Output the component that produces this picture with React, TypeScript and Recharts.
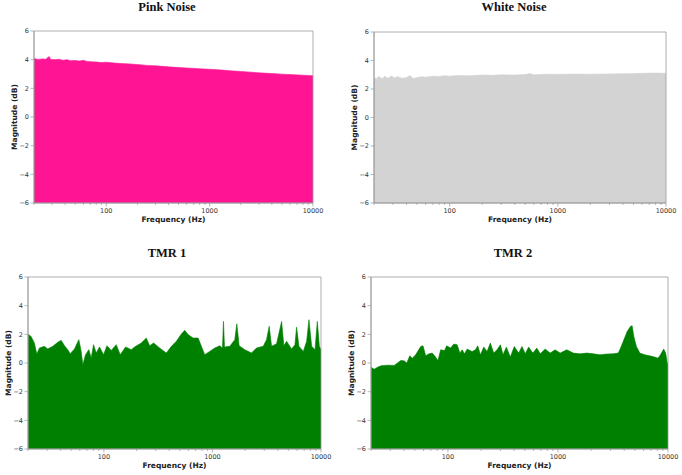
import React from 'react';
import { AreaChart, Area, XAxis, YAxis, ReferenceArea } from 'recharts';

// log-axis ticks (majors get labels)
const X_TICKS = [20, 30, 40, 50, 60, 70, 80, 90, 100, 200, 300, 400, 500, 600, 700, 800, 900,
  1000, 2000, 3000, 4000, 5000, 6000, 7000, 8000, 9000, 10000];
const X_MAJOR = [100, 1000, 10000];
const Y_TICKS = [-6, -4, -2, 0, 2, 4, 6];

const pinkFreq = [20, 22, 24, 26, 28, 29, 32, 35, 38, 42, 45, 50, 55, 60, 65, 70, 80, 90, 100, 120,
  140, 170, 200, 250, 300, 400, 500, 600, 800, 1000, 1300, 1600, 2000, 2500, 3000, 4000, 5000, 6000, 8000, 10000];
const pinkMag = [4.08, 4.02, 4.05, 4.03, 4.22, 4.02, 4.0, 4.03, 3.96, 4.0, 3.93, 3.95, 3.9, 3.96, 3.88, 3.86, 3.84, 3.8, 3.82, 3.76,
  3.73, 3.7, 3.66, 3.6, 3.57, 3.5, 3.45, 3.42, 3.37, 3.33, 3.28, 3.22, 3.18, 3.13, 3.08, 3.03, 2.99, 2.96, 2.92, 2.88];

const whiteFreq = [20, 21, 22, 24, 25, 27, 29, 31, 33, 36, 40, 43, 46, 50, 55, 60, 70, 80, 90, 100,
  120, 150, 200, 250, 300, 400, 500, 550, 600, 800, 1000, 1500, 2000, 3000, 4000, 5000, 6000, 8000, 10000];
const whiteMag = [2.85, 2.7, 2.88, 2.72, 2.9, 2.75, 2.92, 2.78, 2.88, 2.76, 2.8, 2.95, 2.74, 2.8, 2.86, 2.83, 2.9, 2.88, 2.93, 2.9,
  2.95, 2.93, 2.98, 2.96, 3.0, 2.98, 3.02, 3.08, 3.0, 3.04, 3.03, 3.05, 3.04, 3.06, 3.07, 3.08, 3.1, 3.12, 3.1];

const tmr1Freq = [20, 21.3, 22.9, 24.1, 25.5, 28.3, 30.4, 33.8, 37.6, 40.4, 43.4, 46.5, 48.9, 53.6, 58.8,
  61.8, 64.0, 67.7, 72.7, 76.4, 80.3, 85.0, 91.2, 99.3, 106.6, 116.9, 130, 141.5, 158.5, 178.7,
  191.9, 221.1, 245.9, 264, 287, 326, 376, 419, 465, 517, 556, 596, 663, 738, 791,
  849, 944, 1051, 1169, 1237, 1264, 1291, 1445, 1607, 1677, 1762, 1986, 2291, 2547, 2935,
  3150, 3334, 3505, 3899, 4335, 4550, 4819, 5358, 5754, 5959, 6266, 6871, 7376, 7745, 8204,
  8810, 9247, 9660, 10000];
const tmr1Mag = [2.0, 1.86, 1.4, 0.63, 1.05, 1.16, 0.98, 1.16, 1.44, 1.58, 1.2, 0.93, 0.65, 0.98, 1.63,
  0.81, -0.12, 0.58, 0.93, 0.35, 1.28, 0.7, 1.12, 0.58, 1.2, 0.88, 1.28, 0.58, 1.12, 0.93,
  1.12, 1.4, 1.74, 1.2, 1.4, 1.05, 0.7, 1.16, 1.51, 2.02, 2.28, 1.98, 1.74, 1.74, 1.16,
  0.58, 0.81, 1.05, 1.2, 1.05, 2.9, 1.12, 1.16, 1.63, 2.74, 1.2, 0.93, 0.7, 1.05, 1.16,
  1.63, 2.56, 1.16, 1.35, 2.9, 1.2, 1.51, 0.98, 1.28, 2.5, 1.16, 0.81, 1.51, 3.02, 1.16,
  0.93, 2.9, 1.16, 0.93];

const tmr2Freq = [20, 21.4, 22.9, 24.6, 28.3, 32.5, 34.8, 37.3, 40.0, 42.3, 45.0, 47.5, 50.9, 56.6, 59.4,
  62.8, 67.3, 72.1, 77.3, 81.2, 85.9, 93.3, 97.3, 105.7, 113.3, 121.4, 128.4, 134.8, 141.5, 149.6,
  166, 177.8, 186.6, 197.5, 211.7, 227, 243, 260.8, 279.3, 299.9, 316.9, 339.6, 369, 401, 439.5,
  471, 504.7, 540.8, 591.6, 642.7, 690.2, 765.6, 849, 942, 1047, 1202, 1380, 1588, 1824, 2094,
  2410, 2767, 3177, 3532, 3707, 3972, 4256, 4560, 4721, 4887, 5164, 5546, 6152, 6823, 7568,
  8110, 8531, 9141, 9526, 9795, 10000];
const tmr2Mag = [-0.3, -0.43, -0.3, -0.2, -0.15, -0.17, 0, 0.17, 0.15, 0, 0.5, 0.34, 0.57, 1.15, 1.2,
  0.5, 0.64, 0.69, 0.41, 0.17, 0.92, 0.87, 1.2, 1.04, 1.32, 1.27, 0.69, 0.92, 0.64, 0.97,
  0.8, 0.92, 1.2, 0.57, 1.11, 0.8, 1.39, 0.69, 0.92, 1.27, 0.57, 1.11, 0.41, 1.15, 0.69,
  1.15, 0.64, 1.11, 0.69, 1.04, 0.64, 0.97, 0.69, 0.92, 0.69, 0.92, 0.69, 0.64, 0.69, 0.64,
  0.57, 0.62, 0.64, 0.69, 1.04, 1.62, 2.2, 2.55, 2.6, 1.86, 1.15, 0.69, 0.57, 0.5, 0.41,
  0.34, 0.57, 0.97, 0.69, 0.1, -0.13];

const AXIS = '#999';
const TICK_TEXT = '#333';
const SANS = '"DejaVu Sans", sans-serif';

const L = 40, T = 6, R = 14, B = 24;

const rows = (f: number[], m: number[]) => f.map((v, i) => ({ f: v, m: m[i] }));
const fmtY = (v: number) => (v < 0 ? `\u2212${Math.abs(v)}` : `${v}`);

function FreqTick({ x, y, payload }: any) {
  const v = payload.value;
  const major = X_MAJOR.includes(v);
  return (
    <g>
      <line x1={x} x2={x} y1={y} y2={y + (major ? 3.5 : 2)} stroke={AXIS} strokeWidth={0.7} />
      {major && (
        <text x={x} y={y + 10} textAnchor="middle" fontSize={6.5} fill={TICK_TEXT} fontFamily={SANS}>{v}</text>
      )}
    </g>
  );
}

function MagTick({ x, y, payload }: any) {
  return (
    <g>
      <line x1={x - 3.5} x2={x} y1={y} y2={y} stroke={AXIS} strokeWidth={0.7} />
      <text x={x - 5} y={y + 2.3} textAnchor="end" fontSize={6.5} fill={TICK_TEXT} fontFamily={SANS}>{fmtY(payload.value)}</text>
    </g>
  );
}

function XTitle(props: any) {
  const vb = props.viewBox ?? props;
  return (
    <text x={vb.x + vb.width / 2} y={vb.y + 19} textAnchor="middle" fontSize={7.5} fontWeight="bold"
      fill="#222" fontFamily={SANS}>Frequency (Hz)</text>
  );
}

function YTitle(props: any) {
  const vb = props.viewBox ?? props;
  const cx = vb.x + vb.width - 20;
  const cy = vb.y + vb.height / 2;
  return (
    <text x={cx} y={cy} transform={`rotate(-90 ${cx} ${cy})`} textAnchor="middle" dominantBaseline="central"
      fontSize={7.5} fontWeight="bold" fill="#222" fontFamily={SANS}>Magnitude (dB)</text>
  );
}

interface PanelProps {
  title: string;
  freq: number[];
  mag: number[];
  color: string;
  box: { x: number; y: number; w: number; h: number };
  titleX: number;
  titleY: number;
}

function Panel({ title, freq, mag, color, box, titleX, titleY }: PanelProps) {
  const data = rows(freq, mag);
  return (
    <>
      <div style={{
        position: 'absolute', left: titleX - 60, top: titleY - 8, width: 120, textAlign: 'center',
        fontFamily: '"Liberation Serif", serif', fontWeight: 'bold', fontSize: 12.5, lineHeight: '16px', color: '#111',
      }}>{title}</div>
      <div style={{ position: 'absolute', left: box.x - L, top: box.y - T }}>
        <AreaChart width={box.w + L + R} height={box.h + T + B} data={data}
          margin={{ top: T, right: R, bottom: 0, left: 0 }}>
          <XAxis dataKey="f" type="number" scale="log" domain={[20, 10000]} ticks={X_TICKS} interval={0}
            allowDataOverflow height={B} tickSize={0} tickMargin={0} tick={<FreqTick />} tickLine={false}
            axisLine={{ stroke: AXIS, strokeWidth: 0.8 }} label={<XTitle />} />
          <YAxis type="number" domain={[-6, 6]} ticks={Y_TICKS} interval={0} width={L} tickSize={0} tickMargin={0}
            tick={<MagTick />} tickLine={false} axisLine={{ stroke: AXIS, strokeWidth: 0.8 }} label={<YTitle />} />
          <Area type="linear" dataKey="m" baseValue={-6} stroke={color} strokeWidth={0.6} fill={color}
            fillOpacity={1} dot={false} activeDot={false} isAnimationActive={false} />
          <ReferenceArea x1={20} x2={10000} y1={-6} y2={6} fill="none" stroke={AXIS} strokeWidth={0.8} />
        </AreaChart>
      </div>
    </>
  );
}

export default function App() {
  return (
    <div style={{ position: 'absolute', left: 0, top: 0, width: 682, height: 475, background: '#fff' }}>
      <Panel title="Pink Noise" freq={pinkFreq} mag={pinkMag} color="#ff1493"
        box={{ x: 34, y: 31, w: 279, h: 172 }} titleX={167} titleY={7} />
      <Panel title="White Noise" freq={whiteFreq} mag={whiteMag} color="#d3d3d3"
        box={{ x: 374, y: 32, w: 292, h: 171 }} titleX={514} titleY={7} />
      <Panel title="TMR 1" freq={tmr1Freq} mag={tmr1Mag} color="#008000"
        box={{ x: 28, y: 277, w: 293, h: 172 }} titleX={167} titleY={253} />
      <Panel title="TMR 2" freq={tmr2Freq} mag={tmr2Mag} color="#008000"
        box={{ x: 371, y: 277, w: 297, h: 172 }} titleX={513} titleY={253} />
    </div>
  );
}
